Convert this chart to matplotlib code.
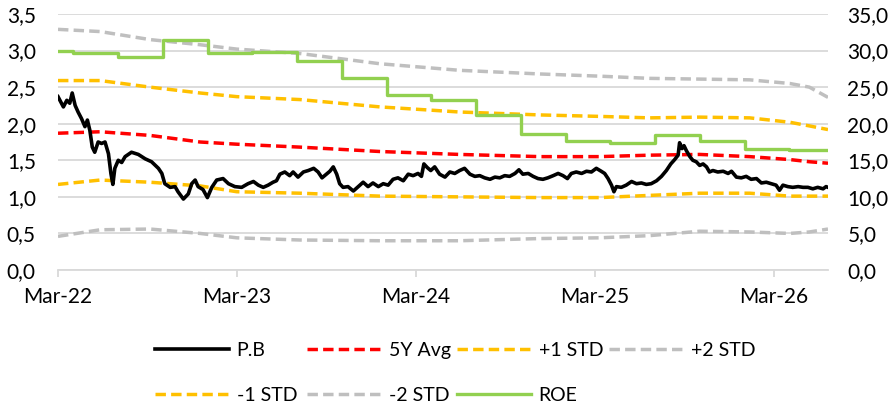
import matplotlib
matplotlib.use('Agg')
import matplotlib.pyplot as plt
import matplotlib.dates as mdates
from matplotlib.ticker import FuncFormatter
import numpy as np
import pandas as pd

plt.rcParams['font.family'] = ['Lato', 'DejaVu Sans']

# P/B history
pb_dates = [
    '2022-03-01', '2022-03-12', '2022-03-19', '2022-03-25', '2022-03-30', '2022-04-05', '2022-04-11',
    '2022-04-18', '2022-04-25', '2022-04-30', '2022-05-05', '2022-05-10', '2022-05-15', '2022-05-22',
    '2022-05-29', '2022-06-05', '2022-06-12', '2022-06-17', '2022-06-21', '2022-06-25', '2022-07-02',
    '2022-07-09', '2022-07-16', '2022-07-29', '2022-08-12', '2022-08-26', '2022-09-08', '2022-09-22',
    '2022-09-29', '2022-10-05', '2022-10-16', '2022-10-26', '2022-11-01', '2022-11-12', '2022-11-22',
    '2022-11-29', '2022-12-06', '2022-12-12', '2022-12-22', '2022-12-31', '2023-01-09', '2023-01-19',
    '2023-02-01', '2023-02-12', '2023-02-25', '2023-03-11', '2023-03-24', '2023-04-04', '2023-04-14',
    '2023-04-24', '2023-05-04', '2023-05-14', '2023-05-21', '2023-05-28', '2023-06-07', '2023-06-17',
    '2023-06-24', '2023-07-04', '2023-07-15', '2023-07-25', '2023-08-05', '2023-08-14', '2023-08-22',
    '2023-08-31', '2023-09-07', '2023-09-14', '2023-09-21', '2023-09-27', '2023-10-04', '2023-10-14',
    '2023-10-25', '2023-11-04', '2023-11-14', '2023-11-24', '2023-12-04', '2023-12-15', '2023-12-25',
    '2024-01-04', '2024-01-14', '2024-01-24', '2024-02-04', '2024-02-14', '2024-02-24', '2024-03-05',
    '2024-03-12', '2024-03-17', '2024-03-24', '2024-03-31', '2024-04-08', '2024-04-18', '2024-04-29',
    '2024-05-09', '2024-05-19', '2024-05-29', '2024-06-08', '2024-06-19', '2024-06-29', '2024-07-09',
    '2024-07-19', '2024-07-30', '2024-08-09', '2024-08-19', '2024-08-29', '2024-09-08', '2024-09-19',
    '2024-09-27', '2024-10-05', '2024-10-16', '2024-10-26', '2024-11-05', '2024-11-15', '2024-11-25',
    '2024-12-06', '2024-12-16', '2024-12-26', '2025-01-04', '2025-01-12', '2025-01-22', '2025-02-02',
    '2025-02-12', '2025-02-22', '2025-03-04', '2025-03-14', '2025-03-21', '2025-03-28', '2025-04-04',
    '2025-04-09', '2025-04-14', '2025-04-24', '2025-05-04', '2025-05-15', '2025-05-25', '2025-06-04',
    '2025-06-14', '2025-06-24', '2025-07-05', '2025-07-15', '2025-07-25', '2025-08-03', '2025-08-11',
    '2025-08-18', '2025-08-21', '2025-08-26', '2025-08-30', '2025-09-04', '2025-09-11', '2025-09-17',
    '2025-09-24', '2025-10-01', '2025-10-08', '2025-10-15', '2025-10-21', '2025-10-28', '2025-11-07',
    '2025-11-18', '2025-11-28', '2025-12-05', '2025-12-15', '2025-12-25', '2026-01-04', '2026-01-14',
    '2026-01-25', '2026-02-04', '2026-02-14', '2026-02-24', '2026-03-06', '2026-03-13', '2026-03-20',
    '2026-03-30', '2026-04-09', '2026-04-20', '2026-04-30', '2026-05-10', '2026-05-20', '2026-05-30',
    '2026-06-10', '2026-06-16', '2026-06-20',
]
pb_vals = [
    2.37, 2.23, 2.32, 2.28, 2.42, 2.25, 2.16,
    2.07, 1.96, 2.05, 1.91, 1.68, 1.61, 1.75,
    1.73, 1.75, 1.59, 1.32, 1.17, 1.39, 1.50,
    1.47, 1.55, 1.61, 1.58, 1.52, 1.48, 1.39,
    1.32, 1.18, 1.13, 1.14, 1.07, 0.97, 1.04,
    1.18, 1.23, 1.14, 1.10, 0.99, 1.13, 1.23,
    1.25, 1.18, 1.14, 1.13, 1.18, 1.21, 1.16,
    1.13, 1.16, 1.20, 1.22, 1.31, 1.34, 1.29,
    1.34, 1.27, 1.34, 1.36, 1.39, 1.34, 1.26,
    1.31, 1.35, 1.41, 1.31, 1.18, 1.13, 1.14,
    1.08, 1.14, 1.20, 1.14, 1.19, 1.14, 1.18,
    1.16, 1.24, 1.26, 1.22, 1.31, 1.29, 1.32,
    1.28, 1.45, 1.40, 1.36, 1.41, 1.31, 1.27,
    1.34, 1.32, 1.36, 1.39, 1.31, 1.28, 1.29,
    1.26, 1.24, 1.27, 1.26, 1.29, 1.28, 1.32,
    1.37, 1.31, 1.32, 1.28, 1.25, 1.24, 1.26,
    1.29, 1.32, 1.29, 1.25, 1.32, 1.34, 1.32,
    1.35, 1.34, 1.39, 1.35, 1.32, 1.25, 1.16,
    1.07, 1.14, 1.13, 1.16, 1.21, 1.18, 1.19,
    1.17, 1.18, 1.22, 1.28, 1.36, 1.45, 1.51,
    1.57, 1.74, 1.66, 1.70, 1.63, 1.55, 1.50,
    1.48, 1.43, 1.45, 1.41, 1.34, 1.36, 1.34,
    1.35, 1.32, 1.35, 1.27, 1.26, 1.28, 1.24,
    1.25, 1.19, 1.20, 1.18, 1.16, 1.09, 1.16,
    1.14, 1.13, 1.14, 1.13, 1.13, 1.11, 1.13,
    1.11, 1.14, 1.13,
]

# valuation bands
band_dates = ['2022-03-01', '2022-05-26', '2022-09-05', '2022-12-16', '2023-03-01', '2023-07-08',
              '2023-12-18', '2024-05-29', '2024-11-09', '2025-03-11', '2025-06-21', '2025-10-01',
              '2026-01-11', '2026-04-03', '2026-05-13', '2026-06-20']
avg_5y = [1.87, 1.89, 1.84, 1.75, 1.72, 1.68, 1.62, 1.58, 1.55, 1.55, 1.57, 1.58, 1.55, 1.51, 1.48, 1.46]
plus_1 = [2.59, 2.59, 2.50, 2.42, 2.37, 2.33, 2.23, 2.16, 2.12, 2.10, 2.08, 2.09, 2.08, 2.02, 1.97, 1.92]
minus_1 = [1.17, 1.23, 1.20, 1.15, 1.07, 1.05, 1.01, 1.00, 0.99, 0.99, 1.02, 1.05, 1.05, 1.01, 1.01, 1.01]
plus_2 = [3.29, 3.26, 3.15, 3.08, 3.02, 2.96, 2.82, 2.73, 2.68, 2.65, 2.62, 2.61, 2.60, 2.55, 2.50, 2.36]
minus_2 = [0.46, 0.55, 0.56, 0.50, 0.44, 0.41, 0.40, 0.40, 0.43, 0.44, 0.47, 0.53, 0.52, 0.50, 0.52, 0.56]

# ROE (%), quarterly, right axis
roe_dates = ['2022-03-01', '2022-04-01', '2022-07-01', '2022-10-01', '2023-01-01', '2023-04-01',
             '2023-07-01', '2023-10-01', '2024-01-01', '2024-04-01', '2024-07-01', '2024-10-01',
             '2025-01-01', '2025-04-01', '2025-07-01', '2025-10-01', '2026-01-01', '2026-04-01',
             '2026-06-20']
roe_vals = [30.0, 29.6, 29.1, 31.5, 29.6, 29.8, 28.6, 26.3, 23.9, 23.3, 21.2, 18.6,
            17.7, 17.4, 18.4, 17.7, 16.5, 16.4, 16.4]

pb_x = pd.to_datetime(pb_dates)
band_x = pd.to_datetime(band_dates)
roe_x = pd.to_datetime(roe_dates)

RED = '#ff0000'
ORANGE = '#ffc000'
GREY = '#bfbfbf'
GREEN = '#92d050'
GRID = '#d9d9d9'
dash = (3.0, 1.5)

fig = plt.figure(figsize=(8.89, 4.08), dpi=100)
ax = fig.add_axes([58 / 889, 1 - 270 / 408, 770 / 889, 256 / 408])
ax2 = ax.twinx()

l_avg, = ax.plot(band_x, avg_5y, color=RED, lw=2.5, dashes=dash, label='5Y Avg')
l_p1, = ax.plot(band_x, plus_1, color=ORANGE, lw=2.5, dashes=dash, label='+1 STD')
l_p2, = ax.plot(band_x, plus_2, color=GREY, lw=2.5, dashes=dash, label='+2 STD')
l_m1, = ax.plot(band_x, minus_1, color=ORANGE, lw=2.5, dashes=dash, label='-1 STD')
l_m2, = ax.plot(band_x, minus_2, color=GREY, lw=2.5, dashes=dash, label='-2 STD')
l_pb, = ax.plot(pb_x, pb_vals, color='black', lw=2.6, label='P.B')
l_roe, = ax2.plot(roe_x, roe_vals, color=GREEN, lw=2.4, drawstyle='steps-post', label='ROE')

ax.set_xlim(pd.Timestamp('2022-03-01'), pd.Timestamp('2026-06-20'))
ax.set_ylim(0, 3.5)
ax2.set_ylim(0, 35)
ax.set_yticks(np.arange(0, 3.51, 0.5))
ax2.set_yticks(np.arange(0, 35.1, 5))
comma = FuncFormatter(lambda v, p: f'{v:.1f}'.replace('.', ','))
ax.yaxis.set_major_formatter(comma)
ax2.yaxis.set_major_formatter(comma)

ax.xaxis.set_major_locator(mdates.MonthLocator(bymonth=3, bymonthday=1))
ax.xaxis.set_major_formatter(mdates.DateFormatter('%b-%y'))

ax.yaxis.grid(True, color=GRID, lw=1.3)
ax.set_axisbelow(True)
for s in ['top', 'left', 'right']:
    ax.spines[s].set_visible(False)
ax.spines['bottom'].set_color(GRID)
ax.spines['bottom'].set_linewidth(1.3)
for s in ax2.spines.values():
    s.set_visible(False)

ax.tick_params(axis='y', length=0, pad=16, labelsize=15)
ax2.tick_params(axis='y', length=0, pad=14, labelsize=15)
ax.tick_params(axis='x', length=5, width=1.3, color=GRID, pad=7, labelsize=15)

# legend: four columns, two rows
rows = [[l_pb, l_avg, l_p1, l_p2], [l_m1, l_m2, l_roe]]
col_x = [155, 307, 457, 609]
for i, cx in enumerate(col_x):
    hs = [r[i] for r in rows if i < len(r)]
    fig.legend(handles=hs, loc='upper left', bbox_to_anchor=(cx / 889, 1 - 342 / 408),
               frameon=False, fontsize=14, handlelength=3.8, handletextpad=0.4,
               labelspacing=1.45, borderpad=0, borderaxespad=0)

fig.savefig('out.png', dpi=100)
